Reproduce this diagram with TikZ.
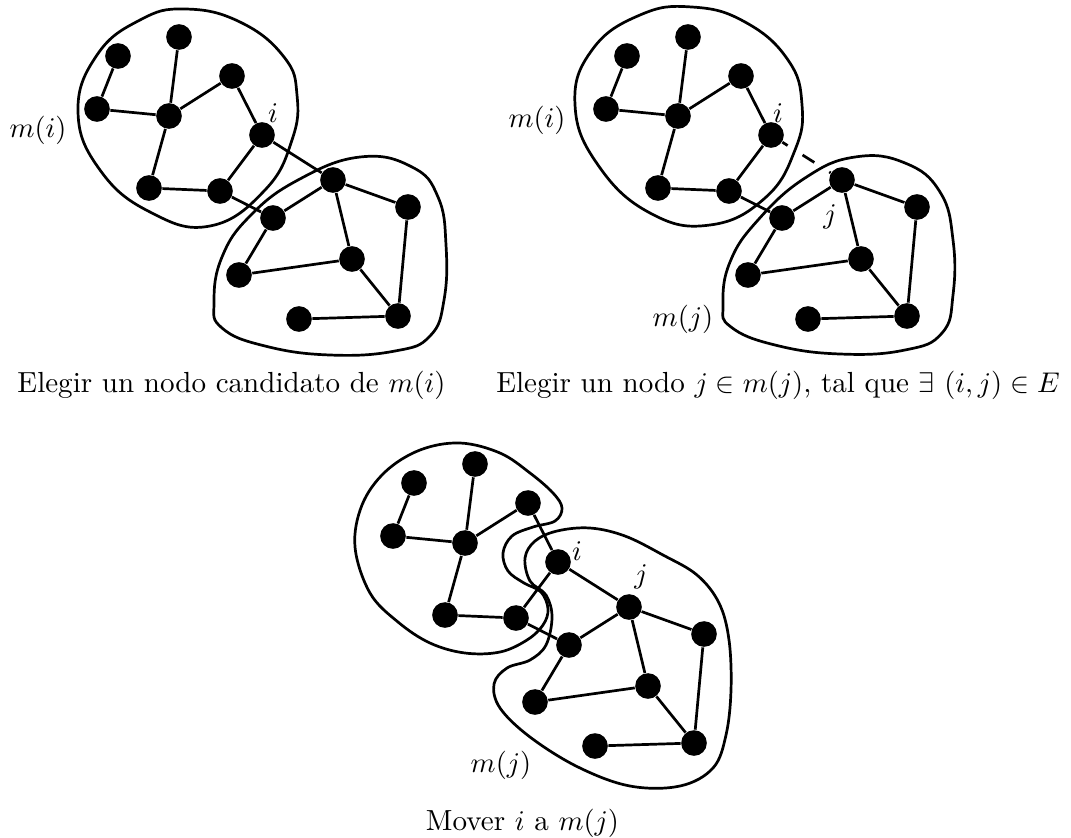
\documentclass[tikz,border=0pt]{standalone}
\tikzset{
 vtx/.style={circle, fill=black, inner sep=0pt, minimum size=9pt},
 edge/.style={line width=0.95pt},
 blob/.style={line width=0.95pt},
 lbl/.style={inner sep=0pt},
 txt/.style={font=\fontsize{10.2pt}{12pt}\selectfont},
}
\begin{document}
\begin{tikzpicture}[x=0.351pt, y=-0.351pt, every node/.append style={txt}]
\useasboundingbox (0,0) rectangle (1071,837);
% ---- blobs graph 1
\draw[blob] plot[smooth cycle, tension=0.75] coordinates {(78,112) (97,55) (140,20) (185,9) (240,22) (284,57) (297,95) (292,140) (265,190) (210,226) (150,212) (100,170)};
\draw[blob] plot[smooth cycle, tension=0.75] coordinates {(214,302) (222,257) (250,216) (298,180) (360,157) (412,167) (438,197) (446,245) (444,300) (430,336) (395,351) (330,355) (265,346) (222,328)};
% ---- blobs graph 2
\draw[blob] plot[smooth cycle, tension=0.75] coordinates {(575,105) (592,50) (640,15) (692,7) (745,22) (788,60) (802,105) (795,150) (765,198) (710,225) (650,213) (598,165)};
\draw[blob] plot[smooth cycle, tension=0.75] coordinates {(723,305) (730,262) (758,220) (805,178) (855,157) (905,163) (940,192) (953,240) (953,295) (942,333) (905,350) (840,354) (775,345) (731,327)};
% ---- blobs graph 3
\draw[blob] plot[smooth cycle, tension=0.6] coordinates {(355,547) (362,505) (385,472) (420,450) (460,443) (500,453) (530,473) (553,493) (562,508) (555,521) (533,527) (512,536) (503,553) (508,571) (524,583) (541,592) (548,609) (543,625) (527,640) (500,652) (465,653) (430,643) (398,622) (370,593)};
\draw[blob] plot[smooth cycle, tension=0.6] coordinates {(525,558) (535,541) (557,531) (590,528) (625,536) (663,555) (697,575) (719,603) (729,640) (731,690) (726,735) (713,768) (680,786) (630,786) (578,767) (530,737) (500,708) (494,684) (507,668) (530,660) (546,645) (552,617) (546,595) (530,581)};
% ---- graphs
\foreach \g/\dx/\dy in {A/0/0,B/509/0,C/296/427}{
 \begin{scope}[shift={(\dx,\dy)}]
  \node[vtx] (\g a) at (118,56) {};
  \node[vtx] (\g b) at (179,37) {};
  \node[vtx] (\g c) at (232,76) {};
  \node[vtx] (\g d) at (97,109) {};
  \node[vtx] (\g e) at (169,116) {};
  \node[vtx] (\g i) at (262,135) {};
  \node[vtx] (\g f) at (149,188) {};
  \node[vtx] (\g g) at (220,191) {};
  \node[vtx] (\g h) at (333,180) {};
  \node[vtx] (\g k) at (408,207) {};
  \node[vtx] (\g l) at (273,218) {};
  \node[vtx] (\g m) at (239,275) {};
  \node[vtx] (\g n) at (352,259) {};
  \node[vtx] (\g o) at (299,319) {};
  \node[vtx] (\g p) at (398,316) {};
 \end{scope}
 \foreach \s/\t in {a/d,d/e,b/e,e/c,c/i,e/f,f/g,g/i,g/l,l/h,h/k,h/n,l/m,m/n,n/p,k/p,o/p}
  \draw[edge] (\g\s) -- (\g\t);
}
\draw[edge] (Ai) -- (Ah);
\draw[edge, dash pattern=on 4.9pt off 6.2pt, dash phase=2.7pt] (Bi) -- (Bh);
\draw[edge] (Ci) -- (Ch);
% ---- labels
\node[lbl] (A-mi) at (38,130) {$m(i)$};
\node[lbl] (A-li) at (273,113) {$i$};
\node[lbl] (B-mi) at (537,120) {$m(i)$};
\node[lbl] (B-li) at (778,113) {$i$};
\node[lbl] (B-lj) at (830,217) {$j$};
\node[lbl] (B-mj) at (683,319) {$m(j)$};
\node[lbl] (C-li) at (577,551) {$i$};
\node[lbl] (C-lj) at (641,577) {$j$};
\node[lbl] (C-mj) at (501,765) {$m(j)$};
% ---- captions
\node[anchor=base] (cap1) at (231.5,392) {Elegir un nodo candidato de $m(i)$};
\node[anchor=base] (cap2) at (778,392) {Elegir un nodo $j\in m(j)$, tal que $\exists$ $(i,j)\in E$};
\node[anchor=base] (cap3) at (522.5,830) {Mover $i$ a $m(j)$};
\end{tikzpicture}
\end{document}
